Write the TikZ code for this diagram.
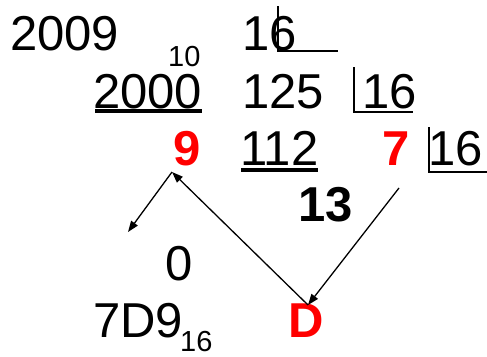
\documentclass[tikz,border=0pt]{standalone}
\usepackage{fontspec}
\setmainfont{Liberation Sans}
\usetikzlibrary{arrows.meta}
\begin{document}
\begin{tikzpicture}[x=1pt, y=-1pt,
    every node/.style={inner sep=0pt, anchor=base west},
    digit/.style={font=\fontsize{49}{58}\selectfont},
    small/.style={font=\fontsize{29}{34}\selectfont},
    rem/.style={font=\fontsize{49}{58}\selectfont\bfseries, text=red},
    bar/.style={line width=1.3pt},
    link/.style={line width=1.3pt, -{Triangle[length=11pt, width=8pt]}},
    rule/.style={line width=4pt}]
    \useasboundingbox (0,0) rectangle (487,356);

    % 1. first division: 2009 by 16
    \node[digit] (num) at (10,50) {2009};
    \node[small] (numbase) at (168,66) {10};
    \node[digit] (d0) at (242,50) {16};
    \draw[bar] (278,6) |- (338,51);

    % 2. second step
    \node[digit] (p1) at (93,108) {2000};
    \draw[rule] (95,111) -- (202,111);
    \node[digit] (q1) at (242,108) {125};
    \node[digit] (d1) at (362,108) {16};
    \draw[bar] (354,67) |- (413,112);

    % 3. remainders
    \node[rem] (r1) at (173,165) {9};
    \node[digit] (p2) at (240,165) {112};
    \draw[rule] (241,170) -- (318,170);
    \node[rem] (r2) at (382,165) {7};
    \node[digit] (d2) at (428,165) {16};
    \draw[bar] (429,127) |- (487,172);
    \node[rem, text=black] (r3) at (298,221) {13};

    % 4. result
    \node[digit] (q3) at (165,280) {0};
    \node[digit] (res) at (93,337) {7D9};
    \node[small] (resbase) at (180,351) {16};
    \node[rem] (hex) at (288,337) {D};

    % 5. reading arrows
    \coordinate (start) at (399,188);
    \coordinate (tip) at (308,305);
    \coordinate (apex) at (172,172);
    \coordinate (tail) at (128,232);
    \draw[link] (start) -- (tip);
    \draw[link] (tip) -- (apex);
    \draw[link] (apex) -- (tail);
\end{tikzpicture}
\end{document}
